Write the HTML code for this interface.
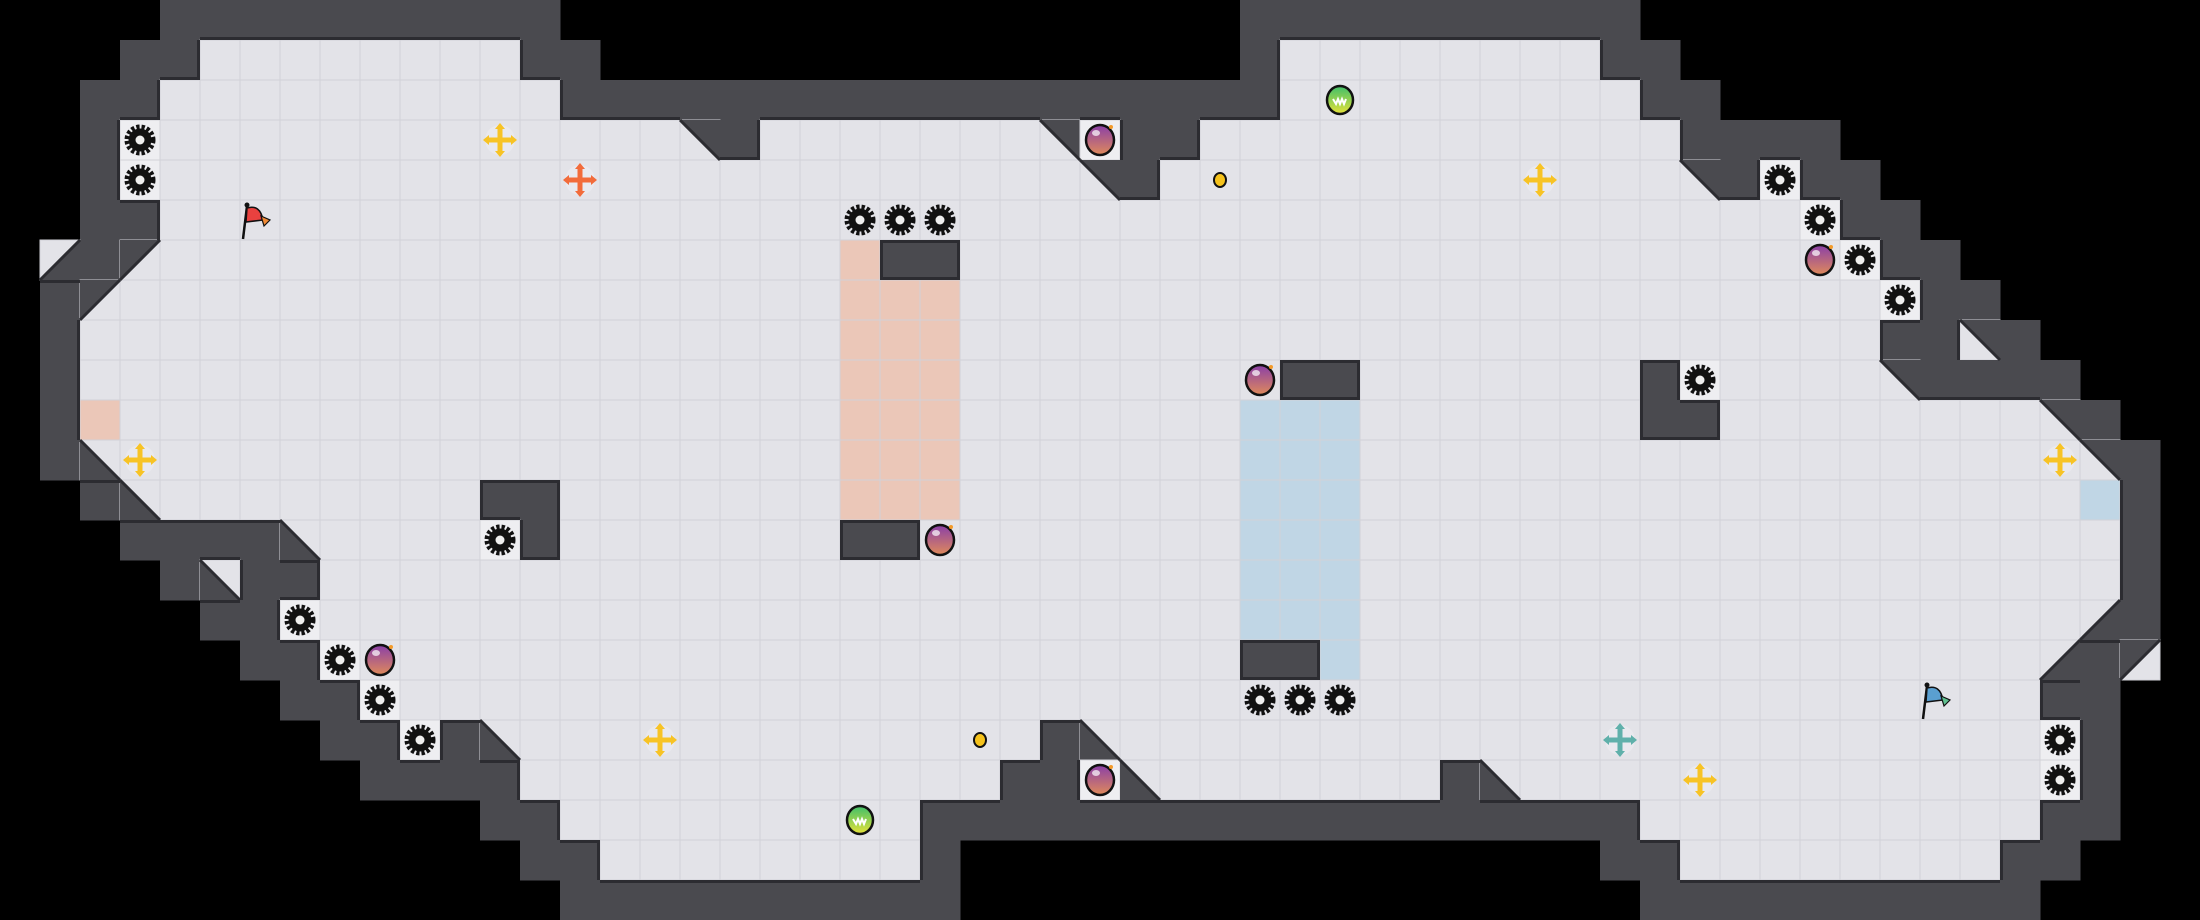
<!DOCTYPE html>
<html><head><meta charset="utf-8">
<style>
html,body{margin:0;padding:0;background:#000;width:2200px;height:920px;overflow:hidden}
svg{display:block}
</style></head>
<body>
<svg id="m" width="2200" height="920" viewBox="0 0 2200 920" xmlns="http://www.w3.org/2000/svg">
<defs>
<linearGradient id="bomb" x1="0" y1="0" x2="0" y2="1">
<stop offset="0" stop-color="#8a3fa8"/><stop offset="1" stop-color="#e08a5a"/></linearGradient>
<linearGradient id="green" x1="0" y1="0" x2="0" y2="1">
<stop offset="0" stop-color="#3fbf6a"/><stop offset="1" stop-color="#e6e23a"/></linearGradient>
</defs>
<rect width="2200" height="920" fill="#000"/>
<g id="g"></g>
</svg>
<script>
var R=23,C=55,S=40,map=[];
for(var r=0;r<R;r++){map.push([]);for(var c=0;c<C;c++)map[r].push('.');}
function s(r,a,b,ch){for(var c=a;c<=b;c++)map[r][c]=ch;}
var spec=[
[0,[[4,13,'W'],[31,40,'W']]],
[1,[[3,4,'W'],[5,12,'F'],[13,14,'W'],[31,31,'W'],[32,39,'F'],[40,41,'W']]],
[2,[[2,3,'W'],[4,13,'F'],[14,31,'W'],[32,40,'F'],[41,42,'W']]],
[3,[[2,2,'W'],[3,3,'L'],[4,16,'F'],[17,17,'a'],[18,18,'W'],[19,25,'F'],[26,26,'a'],[27,27,'L'],[28,29,'W'],[30,41,'F'],[42,45,'W']]],
[4,[[2,2,'W'],[3,3,'L'],[4,26,'F'],[27,27,'a'],[28,28,'W'],[29,41,'F'],[42,42,'a'],[43,43,'W'],[44,44,'L'],[45,46,'W']]],
[5,[[2,3,'W'],[4,44,'F'],[45,45,'L'],[46,47,'W']]],
[6,[[1,1,'d'],[2,2,'W'],[3,3,'c'],[4,45,'F'],[46,46,'L'],[47,48,'W'],[21,21,'R'],[22,23,'W']]],
[7,[[1,1,'W'],[2,2,'c'],[3,46,'F'],[47,47,'L'],[48,49,'W'],[21,23,'R']]],
[8,[[1,1,'W'],[2,46,'F'],[47,48,'W'],[49,49,'a'],[50,50,'W'],[21,23,'R']]],
[9,[[1,1,'W'],[2,46,'F'],[47,47,'a'],[48,51,'W'],[21,23,'R'],[32,33,'W'],[41,41,'W'],[42,42,'L']]],
[10,[[1,1,'W'],[2,2,'R'],[3,50,'F'],[51,51,'a'],[52,52,'W'],[21,23,'R'],[31,33,'B'],[41,42,'W']]],
[11,[[1,1,'W'],[2,2,'b'],[3,51,'F'],[52,52,'a'],[53,53,'W'],[21,23,'R'],[31,33,'B']]],
[12,[[2,2,'W'],[3,3,'b'],[4,51,'F'],[52,52,'B'],[53,53,'W'],[12,13,'W'],[21,23,'R'],[31,33,'B']]],
[13,[[3,6,'W'],[7,7,'b'],[8,52,'F'],[53,53,'W'],[12,12,'L'],[13,13,'W'],[21,22,'W'],[31,33,'B']]],
[14,[[4,4,'W'],[5,5,'b'],[6,7,'W'],[8,52,'F'],[53,53,'W'],[31,33,'B']]],
[15,[[5,6,'W'],[7,7,'L'],[8,51,'F'],[52,52,'d'],[53,53,'W'],[31,33,'B']]],
[16,[[6,7,'W'],[8,8,'L'],[9,50,'F'],[51,51,'d'],[52,52,'W'],[53,53,'c'],[31,32,'W'],[33,33,'B']]],
[17,[[7,8,'W'],[9,9,'L'],[10,50,'F'],[51,52,'W']]],
[18,[[8,9,'W'],[10,10,'L'],[11,11,'W'],[12,12,'b'],[13,25,'F'],[26,26,'W'],[27,27,'b'],[28,50,'F'],[51,51,'L'],[52,52,'W']]],
[19,[[9,12,'W'],[13,24,'F'],[25,26,'W'],[27,27,'L'],[28,28,'b'],[29,35,'F'],[36,36,'W'],[37,37,'b'],[38,50,'F'],[51,51,'L'],[52,52,'W']]],
[20,[[12,13,'W'],[14,22,'F'],[23,40,'W'],[41,50,'F'],[51,52,'W']]],
[21,[[13,14,'W'],[15,22,'F'],[23,23,'W'],[40,41,'W'],[42,49,'F'],[50,51,'W']]],
[22,[[14,23,'W'],[41,50,'W']]]
];
spec.forEach(function(e){e[1].forEach(function(k){s(e[0],k[0],k[1],k[2]);});});
var WALL='#4a4a4f',FL='#e3e3e8',LT='#eeeef1',RED='#ebc7b8',BLU='#c0d6e5',LN='#d2d2d8',EDGE='#2c2c31';
var h='',e='';
function get(r,c){if(r<0||r>=R||c<0||c>=C)return '.';return map[r][c];}
function open(t){return t!='.'&&t!='W';}
for(var r=0;r<R;r++)for(var c=0;c<C;c++){
 var t=map[r][c],x=c*S,y=r*S;
 if(t=='.')continue;
 if(t=='W'){h+='<rect x="'+x+'" y="'+y+'" width="40.5" height="40.5" fill="'+WALL+'"/>';
  if(open(get(r-1,c))&&'ab'.indexOf(get(r-1,c))<0||get(r-1,c)=='b')e+='<rect x="'+x+'" y="'+y+'" width="40" height="3" fill="'+EDGE+'"/>';
  if(open(get(r+1,c))&&get(r+1,c)!='a'&&get(r+1,c)!='c')e+='<rect x="'+x+'" y="'+(y+37)+'" width="40" height="3" fill="'+EDGE+'"/>';
  if(open(get(r,c-1))&&get(r,c-1)!='a'&&get(r,c-1)!='d')e+='<rect x="'+x+'" y="'+y+'" width="3" height="40" fill="'+EDGE+'"/>';
  if(open(get(r,c+1))&&get(r,c+1)!='b'&&get(r,c+1)!='c')e+='<rect x="'+(x+37)+'" y="'+y+'" width="3" height="40" fill="'+EDGE+'"/>';
  continue;}
 var f=t=='R'?RED:t=='B'?BLU:t=='L'?LT:FL;
 h+='<rect x="'+x+'" y="'+y+'" width="40" height="40" fill="'+f+'" stroke="'+LN+'" stroke-width="1"/>';
 var p=null,l=null;
 if(t=='a'){p=[x,y,x+40,y,x+40,y+40];l=[x,y,x+40,y+40];}
 if(t=='b'){p=[x,y,x,y+40,x+40,y+40];l=[x,y,x+40,y+40];}
 if(t=='c'){p=[x,y,x+40,y,x,y+40];l=[x+40,y,x,y+40];}
 if(t=='d'){p=[x+40,y,x+40,y+40,x,y+40];l=[x+40,y,x,y+40];}
 if(p){h+='<polygon points="'+p.join(',')+'" fill="'+WALL+'"/>';
  e+='<line x1="'+l[0]+'" y1="'+l[1]+'" x2="'+l[2]+'" y2="'+l[3]+'" stroke="'+EDGE+'" stroke-width="3"/>';}
}
h+=e;
function cx(c){return c*S+20;}function cy(r){return r*S+20;}
function gear(c,r){var X=cx(c),Y=cy(r);
 h+='<circle cx="'+X+'" cy="'+Y+'" r="13" fill="none" stroke="#111" stroke-width="5" stroke-dasharray="3.2 2"/>'+
 '<circle cx="'+X+'" cy="'+Y+'" r="11.5" fill="#111"/><circle cx="'+X+'" cy="'+Y+'" r="4.5" fill="#eee"/>';}
function bomb(c,r){var X=cx(c),Y=cy(r);
 h+='<ellipse cx="'+X+'" cy="'+Y+'" rx="14" ry="15" fill="url(#bomb)" stroke="#111" stroke-width="2.5"/>'+
 '<ellipse cx="'+(X-4)+'" cy="'+(Y-7)+'" rx="4" ry="3" fill="#fff" opacity=".7"/><circle cx="'+(X+11)+'" cy="'+(Y-13)+'" r="2" fill="#f39a2a"/>';}
function ball(c,r){var X=cx(c),Y=cy(r);
 h+='<ellipse cx="'+X+'" cy="'+Y+'" rx="13" ry="14" fill="url(#green)" stroke="#111" stroke-width="2.5"/>'+
 '<path d="M'+(X-7)+' '+(Y-1)+'l3 5 2-5 2 5 2-5 2 5 2-5" fill="none" stroke="#fff" stroke-width="2"/>';}
function coin(c,r){h+='<ellipse cx="'+cx(c)+'" cy="'+cy(r)+'" rx="6" ry="7" fill="#f5c21b" stroke="#111" stroke-width="2"/>';}
function plus(c,r,col){var X=cx(c),Y=cy(r);
 h+='<circle cx="'+X+'" cy="'+Y+'" r="15" fill="#e9e9ee"/>'+
 '<path d="M'+X+' '+(Y-13)+'V'+(Y+13)+'M'+(X-13)+' '+Y+'H'+(X+13)+'" stroke="'+col+'" stroke-width="5"/>'+
 '<path d="M'+X+' '+(Y-17)+'l-5 6h10zM'+X+' '+(Y+17)+'l-5 -6h10zM'+(X-17)+' '+Y+'l6 -5v10zM'+(X+17)+' '+Y+'l-6 -5v10z" fill="'+col+'"/>';}
function flag(c,r,col,col2){var X=c*S,Y=r*S;
 h+='<path d="M'+(X+3)+' '+(Y+39)+'L'+(X+7)+' '+(Y+6)+'" stroke="#111" stroke-width="2.5"/><circle cx="'+(X+7)+'" cy="'+(Y+5)+'" r="2.5" fill="#111"/>'+
 '<path d="M'+(X+7)+' '+(Y+8)+'Q'+(X+20)+' '+(Y+4)+' '+(X+23)+' '+(Y+20)+'L'+(X+6)+' '+(Y+22)+'z" fill="'+col+'" stroke="#111" stroke-width="1.5"/>'+
 '<path d="M'+(X+21)+' '+(Y+16)+'L'+(X+30)+' '+(Y+20)+'L'+(X+24)+' '+(Y+26)+'z" fill="'+col2+'" stroke="#111" stroke-width="1.2"/>';}
[[3,3],[3,4],[21,5],[22,5],[23,5],[12,13],[7,15],[8,16],[9,17],[10,18],[31,17],[32,17],[33,17],[44,4],[45,5],[46,6],[47,7],[42,9],[51,18],[51,19]].forEach(function(a){gear(a[0],a[1]);});
[[27,3],[23,13],[9,16],[27,19],[31,9],[45,6]].forEach(function(a){bomb(a[0],a[1]);});
ball(33,2);ball(21,20);coin(30,4);coin(24,18);
[[12,3],[3,11],[16,18],[38,4],[51,11],[42,19]].forEach(function(a){plus(a[0],a[1],'#f7c325');});
plus(14,4,'#f26b3a');plus(40,18,'#5fb0aa');
flag(6,5,'#e8413f','#f08a35');flag(48,17,'#5a9fd0','#5fc08f');
document.getElementById('g').innerHTML=h;
</script>
</body></html>
